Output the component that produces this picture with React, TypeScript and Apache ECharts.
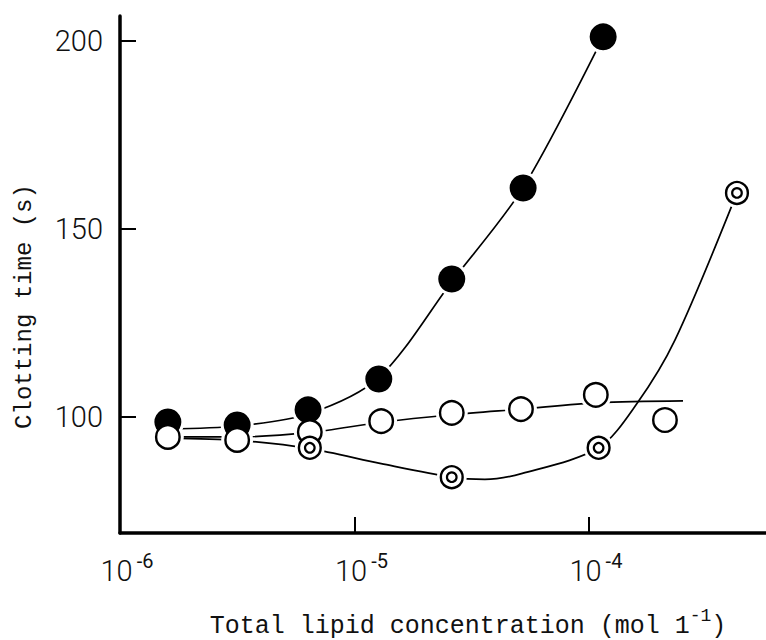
import React, { useEffect, useRef } from 'react';
import * as echarts from 'echarts';

// Measured data points (concentration in mol/l, clotting time in s)
const filledConc = [1.6e-6, 3.16e-6, 6.34e-6, 1.27e-5, 2.6e-5, 5.24e-5, 1.15e-4];
const filledTime = [98.7, 97.9, 101.9, 110.1, 136.7, 160.9, 201.1];

const openConc = [1.6e-6, 3.16e-6, 6.45e-6, 1.3e-5, 2.6e-5, 5.13e-5, 1.07e-4, 2.11e-4];
const openTime = [94.7, 93.9, 96.0, 98.9, 101.1, 102.1, 105.9, 99.2];

const doubleConc = [6.45e-6, 2.6e-5, 1.1e-4, 4.28e-4];
const doubleTime = [91.8, 84.0, 91.8, 159.6];

// Hand-drawn fitted curves
const fitFilledConc = [1.6e-6, 3.16e-6, 6.34e-6, 1.27e-5, 2.6e-5, 5.24e-5, 1.15e-4];
const fitFilledTime = [96.8, 97.6, 100.8, 110.5, 136.0, 161.0, 201.1];

const fitOpenConc = [1.6e-6, 3.16e-6, 6.45e-6, 1.3e-5, 2.6e-5, 5.13e-5, 1.1e-4, 2.52e-4];
const fitOpenTime = [94.7, 94.7, 95.9, 98.6, 100.6, 102.1, 103.8, 104.3];

const fitDoubleConc = [1.6e-6, 3.16e-6, 6.45e-6, 1.3e-5, 2.6e-5, 3.6e-5, 5.2e-5, 1.1e-4, 1.6e-4, 2.33e-4, 4.28e-4];
const fitDoubleTime = [94.4, 93.8, 91.6, 87.6, 84.0, 83.4, 85.0, 91.8, 103.5, 120.5, 159.6];

const yTickValues = [100, 150, 200];

const DIGITS = "Roboto, 'Liberation Sans', sans-serif";
const MONO = "'Liberation Mono', 'DejaVu Sans Mono', monospace";
const INK = '#111';

const zip = (xs: number[], ys: number[]) => xs.map((x, i) => [x, ys[i]]);

export default function App() {
  const ref = useRef<HTMLDivElement>(null);

  useEffect(() => {
    if (!ref.current) return;
    const chart = echarts.init(ref.current, null, { renderer: 'svg' });

    const curve = (name: string, xs: number[], ys: number[]) => ({
      name,
      type: 'line',
      data: zip(xs, ys),
      symbol: 'none',
      smooth: 0.3,
      lineStyle: { color: '#000', width: 1.7 },
      silent: true,
      z: 1,
    });

    const halo = (name: string, xs: number[], ys: number[], size: number) => ({
      name,
      type: 'scatter',
      data: zip(xs, ys),
      symbol: 'circle',
      symbolSize: size,
      itemStyle: { color: '#fff', opacity: 1 },
      silent: true,
      z: 2,
    });

    const option = {
      animation: false,
      backgroundColor: '#fff',
      grid: {
        left: 120,
        right: -4,
        top: 16,
        bottom: 107,
        containLabel: false,
        outerBoundsMode: 'none',
      },
      xAxis: {
        type: 'log',
        logBase: 10,
        min: 1e-6,
        max: 5.92e-4,
        name: '{m|Total lipid concentration (mol 1}{s|-1}{m|)}',
        nameLocation: 'middle',
        nameGap: 74,
        nameMoveOverlap: false,
        nameTextStyle: {
          padding: [0, 0, 0, 46],
          rich: {
            m: { fontFamily: MONO, fontSize: 25, color: INK, lineHeight: 32, verticalAlign: 'bottom' },
            s: { fontFamily: MONO, fontSize: 18, color: INK, lineHeight: 18, verticalAlign: 'top' },
          },
        },
        axisLine: { show: true, lineStyle: { color: '#000', width: 3.5 } },
        axisTick: { show: true, inside: true, length: 16, lineStyle: { color: '#000', width: 2 } },
        minorTick: { show: false },
        splitLine: { show: false },
        axisLabel: {
          margin: 18,
          padding: [0, 0, 0, 14],
          showMaxLabel: false,
          formatter: (v: number) => {
            const e = Math.log10(v);
            const r = Math.round(e);
            if (Math.abs(e - r) > 0.01) return '';
            return `{b|10}{s|${r}}`;
          },
          rich: {
            b: { fontFamily: DIGITS, fontWeight: 300, fontSize: 29, color: INK, lineHeight: 34, verticalAlign: 'bottom' },
            s: { fontFamily: DIGITS, fontWeight: 400, fontSize: 20, color: INK, lineHeight: 20, verticalAlign: 'top', padding: [0, 0, 0, 4] },
          },
        },
      },
      yAxis: {
        type: 'value',
        min: 69.15,
        max: 206.65,
        name: 'Clotting time (s)',
        nameLocation: 'middle',
        nameRotate: 90,
        nameGap: 84,
        nameMoveOverlap: false,
        nameTextStyle: { fontFamily: MONO, fontSize: 24, color: INK, padding: [0, 64, 0, 0] },
        axisLine: { show: true, lineStyle: { color: '#000', width: 3.5 } },
        axisTick: { show: true, inside: true, length: 16, customValues: yTickValues, lineStyle: { color: '#000', width: 2 } },
        splitLine: { show: false },
        axisLabel: {
          margin: 17,
          customValues: yTickValues,
          fontFamily: DIGITS,
          fontWeight: 300,
          fontSize: 29,
          color: INK,
        },
      },
      series: [
        curve('fit filled', fitFilledConc, fitFilledTime),
        curve('fit open', fitOpenConc, fitOpenTime),
        curve('fit double', fitDoubleConc, fitDoubleTime),
        halo('halo filled', filledConc, filledTime, 33),
        halo('halo open', openConc, openTime, 32),
        halo('halo double', doubleConc, doubleTime, 30),
        {
          name: 'filled',
          type: 'scatter',
          data: zip(filledConc, filledTime),
          symbol: 'circle',
          symbolSize: 27,
          itemStyle: { color: '#000', opacity: 1 },
          z: 3,
        },
        {
          name: 'open',
          type: 'scatter',
          data: zip(openConc, openTime),
          symbol: 'circle',
          symbolSize: 23.5,
          itemStyle: { color: '#fff', borderColor: '#000', borderWidth: 2.4, opacity: 1 },
          z: 4,
        },
        {
          name: 'double outer',
          type: 'scatter',
          data: zip(doubleConc, doubleTime),
          symbol: 'circle',
          symbolSize: 21.8,
          itemStyle: { color: '#fff', borderColor: '#000', borderWidth: 2.4, opacity: 1 },
          z: 5,
        },
        {
          name: 'double inner',
          type: 'scatter',
          data: zip(doubleConc, doubleTime),
          symbol: 'circle',
          symbolSize: 9.6,
          itemStyle: { color: '#fff', borderColor: '#000', borderWidth: 2.2, opacity: 1 },
          z: 6,
        },
      ],
    };

    chart.setOption(option as any);
    return () => chart.dispose();
  }, []);

  return (
    <div
      ref={ref}
      style={{ position: 'fixed', left: 0, top: 0, width: 766, height: 640, background: '#fff' }}
    />
  );
}
